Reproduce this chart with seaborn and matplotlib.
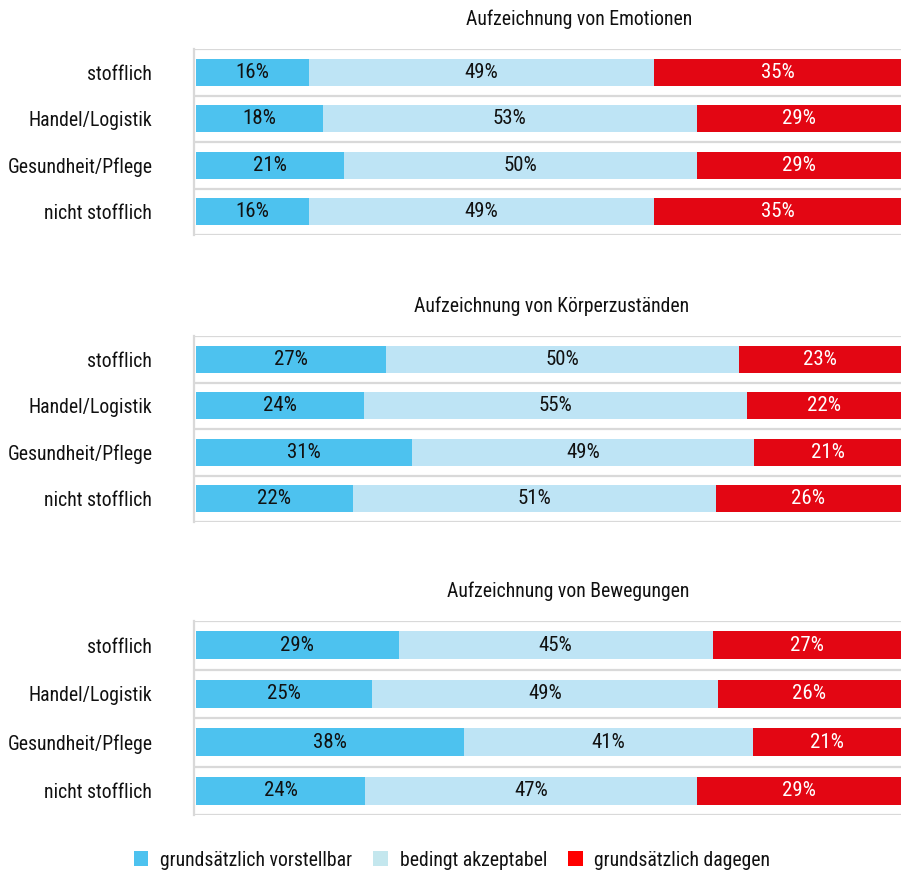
"""
plot.py
-------
Stacked horizontal bar chart: acceptance of recording emotions, body states
and movements, split by sector. Writes out.png.
"""

import matplotlib.pyplot as plt
import pandas as pd
import seaborn as sns
from matplotlib.patches import Patch

CATEGORIES = ["stofflich", "Handel/Logistik", "Gesundheit/Pflege", "nicht stofflich"]
SERIES = ["grundsätzlich vorstellbar", "bedingt akzeptabel", "grundsätzlich dagegen"]
TITLES = [
    "Aufzeichnung von Emotionen",
    "Aufzeichnung von Körperzuständen",
    "Aufzeichnung von Bewegungen",
]

emotionen_vorstellbar = [16, 18, 21, 16]
emotionen_bedingt = [49, 53, 50, 49]
emotionen_dagegen = [35, 29, 29, 35]

koerper_vorstellbar = [27, 24, 31, 22]
koerper_bedingt = [50, 55, 49, 51]
koerper_dagegen = [23, 22, 21, 26]

bewegung_vorstellbar = [29, 25, 38, 24]
bewegung_bedingt = [45, 49, 41, 47]
bewegung_dagegen = [27, 26, 21, 29]

PANELS = [
    (emotionen_vorstellbar, emotionen_bedingt, emotionen_dagegen),
    (koerper_vorstellbar, koerper_bedingt, koerper_dagegen),
    (bewegung_vorstellbar, bewegung_bedingt, bewegung_dagegen),
]

COLORS = ["#4DC2EF", "#BEE4F5", "#E30613"]
LEGEND_COLORS = ["#4DC2EF", "#C4E7EE", "#FF0000"]
TEXT_COLORS = ["#111111", "#111111", "white"]
GRID = "#D9D9D9"

W, H = 901, 872
# (top, bottom) of each panel in pixels, and where its title is centred
PANEL_PX = [(49, 235), (336, 522), (621, 815)]
TITLE_CX = [579, 552, 568]
LEFT_PX = 194

sns.set_theme(style="white")
plt.rcParams["font.family"] = ["Roboto Condensed", "DejaVu Sans"]
FS = 14.2
FS_VAL = 15


def _panel_frame(vals):
    a, b, c = vals
    df = pd.DataFrame({"category": CATEGORIES, "s1": a, "s2": b, "s3": c})
    total = df[["s1", "s2", "s3"]].sum(axis=1)
    for s in ("s1", "s2", "s3"):
        df[s + "_pct"] = df[s] / total * 100
    df["c1"] = df["s1_pct"]
    df["c2"] = df["s1_pct"] + df["s2_pct"]
    df["c3"] = df["c2"] + df["s3_pct"]
    return df


fig = plt.figure(figsize=(W / 100, H / 100), dpi=100)
ax_w = W - LEFT_PX

for (top, bottom), cx, vals, title in zip(PANEL_PX, TITLE_CX, PANELS, TITLES):
    ax = fig.add_axes([LEFT_PX / W, 1 - bottom / H, ax_w / W, (bottom - top) / H])
    df = _panel_frame(vals)

    # stack by overdrawing cumulative totals, widest first
    for col, color in zip(["c3", "c2", "c1"], COLORS[::-1]):
        sns.barplot(
            data=df, x=col, y="category", order=CATEGORIES, orient="h",
            color=color, saturation=1, width=0.58, errorbar=None,
            linewidth=0, ax=ax,
        )

    # segment labels
    for i, row in df.iterrows():
        starts = [0, row["c1"], row["c2"]]
        widths = [row["s1_pct"], row["s2_pct"], row["s3_pct"]]
        raw = [row["s1"], row["s2"], row["s3"]]
        for x0, w, v, tc in zip(starts, widths, raw, TEXT_COLORS):
            ax.text(x0 + w / 2, i, f"{v}%", ha="center", va="center",
                    fontsize=FS_VAL, color=tc)

    ax.set_xlim(-0.3, 100)
    ax.set_ylim(3.5, -0.5)
    for b in [-0.5, 0.5, 1.5, 2.5, 3.5]:
        ax.axhline(b, color=GRID, linewidth=1.6, zorder=0)
    for side in ("top", "right", "bottom"):
        ax.spines[side].set_visible(False)
    ax.spines["left"].set_color(GRID)
    ax.spines["left"].set_linewidth(1.6)
    ax.set_xlabel("")
    ax.set_ylabel("")
    ax.set_xticks([])
    ax.tick_params(axis="y", length=0, pad=30, labelsize=FS, labelcolor="#111111")
    ax.set_title(title, fontsize=FS, pad=17, color="#111111",
                 x=(cx - LEFT_PX) / ax_w)

handles = [Patch(facecolor=c, edgecolor="none") for c in LEGEND_COLORS]
fig.legend(
    handles, SERIES, loc="center", bbox_to_anchor=(452 / W, 1 - 860 / H),
    ncol=3, frameon=False, fontsize=FS, handlelength=0.75, handleheight=0.75,
    handletextpad=0.6, columnspacing=1.05, labelcolor="#111111",
)

fig.savefig("out.png", dpi=100, facecolor="white")
